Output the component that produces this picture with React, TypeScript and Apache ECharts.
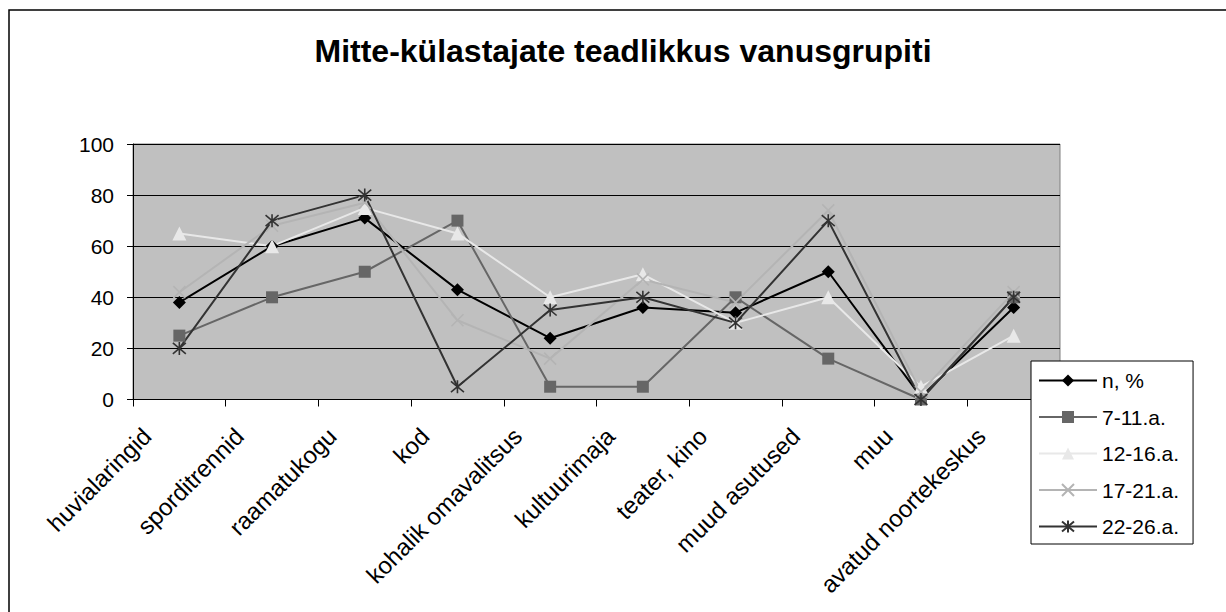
import React, { useEffect, useRef } from "react";
import * as echarts from "echarts";

const categories = [
  "huvialaringid",
  "sporditrennid",
  "raamatukogu",
  "kod",
  "kohalik omavalitsus",
  "kultuurimaja",
  "teater, kino",
  "muud asutused",
  "muu",
  "avatud noortekeskus",
];
const seriesNames = ["n, %", "7-11.a.", "12-16.a.", "17-21.a.", "22-26.a."];
const nPct = [38, 60, 71, 43, 24, 36, 34, 50, 1, 36];
const age7to11 = [25, 40, 50, 70, 5, 5, 40, 16, 0, 40];
const age12to16 = [65, 60, 75, 65, 40, 49, 30, 40, 5, 25];
const age17to21 = [42, 68, 77, 31, 16, 47, 38, 74, 3, 42];
const age22to26 = [20, 70, 80, 5, 35, 40, 30, 70, 0, 40];
const yTicks = { min: 0, max: 100, interval: 20 };
const titleText = "Mitte-külastajate teadlikkus vanusgrupiti";

const FONT = "'Liberation Sans', Arial, Helvetica, sans-serif";
const CROSS = "path://M0,0L10,10M10,0L0,10";
const STAR = "path://M0,0L10,10M10,0L0,10M5,-1L5,11";

export default function App() {
  const ref = useRef<HTMLDivElement>(null);
  useEffect(() => {
    if (!ref.current) return;
    const chart = echarts.init(ref.current, null, { renderer: "svg" });
    const mk = (name: string, data: number[], color: string, symbol: string, size: number, stroke?: boolean) => ({
      name,
      type: "line",
      data,
      symbol,
      symbolSize: size,
      showSymbol: true,
      lineStyle: { color, width: 2 },
      itemStyle: stroke
        ? { color: "rgba(0,0,0,0)", borderColor: color, borderWidth: 1.6 }
        : { color, borderWidth: 0 },
      emphasis: { disabled: true },
    });
    chart.setOption({
      animation: false,
      backgroundColor: "#ffffff",
      title: {
        text: titleText,
        left: 623,
        textAlign: "center",
        top: 35,
        padding: 0,
        textStyle: { fontFamily: FONT, fontSize: 32, fontWeight: "bold", color: "#000" },
      },
      graphic: [
        {
          type: "rect",
          shape: { x: 9, y: 10, width: 1400, height: 800 },
          style: { fill: "none", stroke: "#000", lineWidth: 1.5 },
          silent: true,
          z: 100,
        },
      ],
      legend: {
        orient: "vertical",
        left: 1031,
        top: 361,
        padding: [9, 14, 7, 7],
        itemWidth: 58,
        itemHeight: 15,
        itemGap: 15.5,
        backgroundColor: "#fff",
        borderColor: "#000",
        borderWidth: 1,
        textStyle: { fontFamily: FONT, fontSize: 21, color: "#000", lineHeight: 20 },
        data: seriesNames,
      },
      grid: {
        left: 133,
        right: 166,
        top: 144,
        bottom: 212.5,
        show: true,
        backgroundColor: "#c0c0c0",
        borderColor: "#808080",
        borderWidth: 1,
        containLabel: false,
      },
      xAxis: {
        type: "category",
        data: categories,
        boundaryGap: true,
        axisLine: { show: true, lineStyle: { color: "#000", width: 1 } },
        axisTick: { show: true, length: 7, interval: 0, lineStyle: { color: "#000" } },
        axisLabel: {
          interval: 0,
          rotate: 45,
          margin: 0,
          padding: [0, 46, 0, 0],
          fontFamily: FONT,
          fontSize: 24,
          color: "#000",
        },
        splitLine: { show: false },
      },
      yAxis: {
        type: "value",
        min: yTicks.min,
        max: yTicks.max,
        interval: yTicks.interval,
        axisLine: { show: true, lineStyle: { color: "#000", width: 1 } },
        axisTick: { show: true, length: 6, lineStyle: { color: "#000" } },
        axisLabel: { margin: 19, fontFamily: FONT, fontSize: 21, color: "#000" },
        splitLine: { show: true, lineStyle: { color: "#000", width: 1 } },
      },
      series: [
        mk(seriesNames[0], nPct, "#000000", "diamond", 13),
        mk(seriesNames[1], age7to11, "#666666", "rect", 12),
        mk(seriesNames[2], age12to16, "#e8e8e8", "triangle", 14),
        mk(seriesNames[3], age17to21, "#b4b4b4", CROSS, 12, true),
        mk(seriesNames[4], age22to26, "#333333", STAR, 13, true),
      ],
    });
    return () => chart.dispose();
  }, []);
  return (
    <div
      ref={ref}
      style={{ position: "absolute", left: 0, top: 0, width: 1226, height: 612 }}
    />
  );
}
